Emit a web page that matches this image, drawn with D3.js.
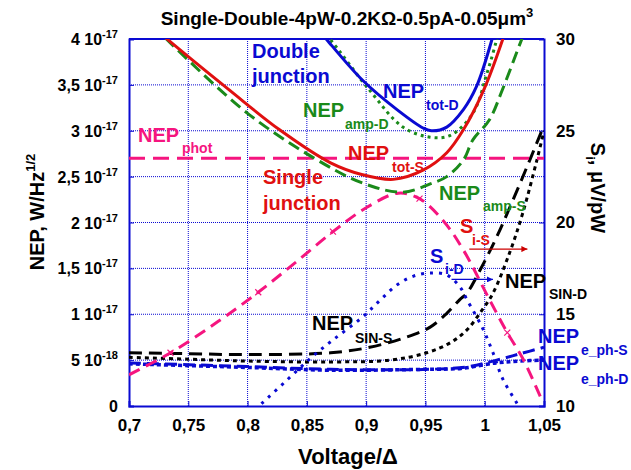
<!DOCTYPE html>
<html>
<head>
<meta charset="utf-8">
<script src="https://cdn.jsdelivr.net/npm/d3@7"></script>
<style>
  body { margin: 0; background: #fff; }
  svg { display: block; }
  text { font-family: Arial, "Liberation Sans", sans-serif; font-weight: bold; }
</style>
</head>
<body>
<svg id="chart" width="631" height="470"></svg>
<script>
// ---------- DATA (NEP in units of 1e-17 W/Hz^1/2, S in µV/pW) ----------
const xTicks = [0.7, 0.75, 0.8, 0.85, 0.9, 0.95, 1.0, 1.05];
const xTickLabels = ["0,7", "0,75", "0,8", "0,85", "0,9", "0,95", "1", "1,05"];
const yTicks = [0, 0.5, 1, 1.5, 2, 2.5, 3, 3.5, 4];
const yTickMant = ["0", "5", "1", "1,5", "2", "2,5", "3", "3,5", "4"];
const yTickExp = ["", "-18", "-17", "-17", "-17", "-17", "-17", "-17", "-17"];
const y2Ticks = [10, 15, 20, 25, 30];

// NEP_tot-S (red solid)
const totS_v = [0.725, 0.733, 0.785, 0.827, 0.870, 0.897, 0.923, 0.948, 0.968, 0.982, 0.999, 1.015, 1.02];
const totS_n = [4.08, 3.99, 3.44, 3.01, 2.65, 2.52, 2.47, 2.57, 2.76, 3.01, 3.44, 3.99, 4.2];
// NEP_amp-S (green dashed)
const ampS_v = [0.72, 0.737, 0.800, 0.855, 0.897, 0.931, 0.954, 0.968, 0.982, 0.990, 1.004, 1.015, 1.031, 1.036];
const ampS_n = [4.15, 3.93, 3.19, 2.71, 2.43, 2.33, 2.42, 2.50, 2.68, 2.90, 3.12, 3.45, 3.99, 4.15];
// NEP_tot-D (blue solid)
const totD_v = [0.860, 0.867, 0.897, 0.926, 0.948, 0.955, 0.968, 0.982, 0.993, 1.006, 1.01];
const totD_n = [4.1, 3.99, 3.55, 3.23, 3.03, 3.00, 3.04, 3.23, 3.48, 3.99, 4.2];
// NEP_amp-D (green dotted)
const ampD_v = [0.862, 0.870, 0.903, 0.931, 0.954, 0.971, 0.990, 1.002, 1.010, 1.014];
const ampD_n = [4.1, 3.99, 3.44, 3.04, 2.93, 2.95, 3.19, 3.63, 3.99, 4.2];
// NEP_phot (pink dashed)
const phot_v = [0.7, 1.05];
const phot_n = [2.7, 2.7];
// NEP_SIN-S (black dashed)
const sinS_v = [0.7, 0.75, 0.8, 0.87, 0.903, 0.934, 0.954, 0.968, 0.979, 0.985, 0.996, 1.010, 1.024, 1.038, 1.05];
const sinS_n = [0.58, 0.57, 0.56, 0.58, 0.64, 0.75, 0.86, 1.01, 1.16, 1.23, 1.48, 1.84, 2.25, 2.68, 3.06];
// NEP_SIN-D (black dotted)
const sinD_v = [0.7, 0.75, 0.8, 0.87, 0.92, 0.951, 0.971, 0.985, 0.998, 1.007, 1.021, 1.032, 1.044, 1.05];
const sinD_n = [0.53, 0.51, 0.49, 0.48, 0.50, 0.58, 0.69, 0.83, 1.05, 1.23, 1.67, 2.10, 2.68, 3.0];
// NEP_e_ph-S (blue dashed)
const ephS_v = [0.7, 0.75, 0.8, 0.87, 0.954, 0.987, 1.010, 1.03, 1.05];
const ephS_n = [0.47, 0.45, 0.43, 0.40, 0.40, 0.43, 0.50, 0.57, 0.64];
// NEP_e_ph-D (blue dotted)
const ephD_v = [0.7, 0.75, 0.8, 0.87, 0.95, 0.98, 1.010, 1.03, 1.05];
const ephD_n = [0.46, 0.44, 0.42, 0.39, 0.40, 0.41, 0.47, 0.49, 0.50];
// S_i-S (pink dashed, right axis)
const siS_v = [0.7, 0.735, 0.775, 0.809, 0.84, 0.872, 0.90, 0.927, 0.945, 0.965, 0.982, 1.004, 1.019, 1.032, 1.049];
const siS_s = [11.7, 12.9, 14.6, 16.2, 17.8, 19.5, 20.8, 21.6, 21.3, 20.1, 18.5, 15.8, 14.0, 12.6, 10.2];
const siS_markV = [0.735, 0.809, 0.872, 0.945, 1.019];
// S_i-D (blue dotted, right axis)
const siD_v = [0.806, 0.813, 0.833, 0.853, 0.872, 0.897, 0.912, 0.926, 0.940, 0.954, 0.968, 0.979, 0.985, 0.9985, 1.007, 1.015, 1.027, 1.03];
const siD_s = [9.8, 10.2, 11.4, 12.6, 13.6, 14.85, 15.78, 16.6, 17.08, 17.25, 17.14, 16.5, 15.8, 14.2, 12.9, 11.5, 10.16, 9.8];

// ---------- LAYOUT ----------
const svg = d3.select("#chart");
const L = 129, R = 544, T = 39, B = 406;
const x = d3.scaleLinear().domain([0.7, 1.05]).range([L, R]);
const y = d3.scaleLinear().domain([0, 4]).range([B, T]);
const y2 = d3.scaleLinear().domain([10, 30]).range([B, T]);

const BLUE = "#0a0ad2", RED = "#e01010", GREEN = "#1a8a1a", PINK = "#f5157f", BLACK = "#000";

svg.append("defs").append("clipPath").attr("id", "clip")
  .append("rect").attr("x", L).attr("y", T).attr("width", R - L).attr("height", B - T);

// grid
const grid = svg.append("g");
xTicks.slice(1, -1).forEach(v => grid.append("line")
  .attr("x1", x(v)).attr("x2", x(v)).attr("y1", T).attr("y2", B)
  .attr("stroke", BLUE).attr("stroke-width", 1).attr("stroke-dasharray", "1,1"));
yTicks.slice(1, -1).forEach(v => grid.append("line")
  .attr("x1", L).attr("x2", R).attr("y1", y(v)).attr("y2", y(v))
  .attr("stroke", BLUE).attr("stroke-width", 1).attr("stroke-dasharray", "1,1"));

// axes via d3
const FONT = "Arial, 'Liberation Sans', sans-serif";
const axB = svg.append("g").attr("transform", `translate(0,${B})`)
  .call(d3.axisBottom(x).tickValues(xTicks).tickSize(-5).tickFormat((d, i) => xTickLabels[i]));
axB.selectAll("text").attr("dy", "1.3em").style("font-size", "17px").style("font-family", FONT).style("font-weight", "bold").attr("fill", "#000");
const axL = svg.append("g").attr("transform", `translate(${L},0)`)
  .call(d3.axisLeft(y).tickValues(yTicks).tickSize(-5).tickFormat(""));
const axR = svg.append("g").attr("transform", `translate(${R},0)`)
  .call(d3.axisRight(y2).tickValues(y2Ticks).tickSize(-5).tickFormat(d => d));
axR.selectAll("text").attr("x", 12).style("font-size", "17px").style("font-family", FONT).style("font-weight", "bold").attr("fill", "#000");
[axB, axL, axR].forEach(a => {
  a.select(".domain").attr("stroke", BLUE).attr("stroke-width", 2);
  a.selectAll(".tick line").attr("stroke", BLUE);
});
svg.append("line").attr("x1", L).attr("x2", R).attr("y1", T).attr("y2", T).attr("stroke", BLUE).attr("stroke-width", 2);

// left tick labels with exponents
yTicks.forEach((v, i) => {
  const t = svg.append("text").attr("x", 118).attr("y", y(v) + 6).attr("text-anchor", "end")
    .style("font-size", "16px");
  if (yTickExp[i]) {
    t.append("tspan").text(yTickMant[i] + " 10");
    t.append("tspan").attr("dy", -7).style("font-size", "11px").text(yTickExp[i]);
  } else {
    t.text(yTickMant[i]);
  }
});

// curves
const plot = svg.append("g").attr("clip-path", "url(#clip)");
function drawNEP(vs, ns, color, dash, w) {
  const pts = vs.map((v, i) => [x(v), y(ns[i])]);
  plot.append("path").attr("d", d3.line().curve(d3.curveCatmullRom.alpha(0.5))(pts))
    .attr("fill", "none").attr("stroke", color).attr("stroke-width", w || 3)
    .attr("stroke-dasharray", dash || null);
}
function drawS(vs, ss, color, dash, w) {
  const pts = vs.map((v, i) => [x(v), y2(ss[i])]);
  plot.append("path").attr("d", d3.line().curve(d3.curveCatmullRom.alpha(0.5))(pts))
    .attr("fill", "none").attr("stroke", color).attr("stroke-width", w || 3)
    .attr("stroke-dasharray", dash || null);
}

drawNEP(ephD_v, ephD_n, BLUE, "4,3", 3.5);
drawNEP(ephS_v, ephS_n, BLUE, "12,6", 3);
drawNEP(sinD_v, sinD_n, BLACK, "4,4", 3);
drawNEP(sinS_v, sinS_n, BLACK, "13,7", 3);
drawS(siD_v, siD_s, BLUE, "3,6", 3);
drawS(siS_v, siS_s, PINK, "12,7", 3);
drawNEP(phot_v, phot_n, PINK, "16,8", 3);
drawNEP(ampS_v, ampS_n, GREEN, "12,6", 3);
drawNEP(ampD_v, ampD_n, GREEN, "3,4", 3);
drawNEP(totS_v, totS_n, RED, null, 3);
drawNEP(totD_v, totD_n, BLUE, null, 3);

// markers on S_i-S
const siInterp = v => {
  for (let i = 0; i < siS_v.length - 1; i++) if (v >= siS_v[i] && v <= siS_v[i + 1]) {
    const t = (v - siS_v[i]) / (siS_v[i + 1] - siS_v[i]);
    return siS_s[i] + t * (siS_s[i + 1] - siS_s[i]);
  }
  return siS_s[0];
};
siS_markV.forEach(v => {
  const cx = x(v), cy = y2(siInterp(v));
  plot.append("path").attr("d", `M${cx - 3},${cy - 3}L${cx + 3},${cy + 3}M${cx - 3},${cy + 3}L${cx + 3},${cy - 3}`)
    .attr("stroke", PINK).attr("stroke-width", 1.2);
});

// arrows
const defs = svg.select("defs");
[["arrR", "#cc0000"], ["arrB", BLUE]].forEach(([id, c]) => {
  defs.append("marker").attr("id", id).attr("viewBox", "0 0 10 10").attr("refX", 10).attr("refY", 5)
    .attr("markerWidth", 10).attr("markerHeight", 6).attr("orient", "auto").attr("markerUnits", "userSpaceOnUse")
    .append("path").attr("d", "M0,0L10,5L0,10Z").attr("fill", c);
});
svg.append("line").attr("x1", x(0.987)).attr("x2", x(1.036)).attr("y1", y2(18.55)).attr("y2", y2(18.55))
  .attr("stroke", "#cc0000").attr("stroke-width", 1.3).attr("marker-end", "url(#arrR)");
svg.append("line").attr("x1", x(0.972)).attr("x2", x(1.007)).attr("y1", y2(16.9)).attr("y2", y2(16.9))
  .attr("stroke", BLUE).attr("stroke-width", 1.3).attr("marker-end", "url(#arrB)");

// annotation labels
function lab(px, py, txt, color, size) {
  svg.append("text").attr("x", px).attr("y", py).attr("fill", color).style("font-size", size + "px").text(txt);
}
lab(252, 58, "Double", BLUE, 20);
lab(252, 83, "junction", BLUE, 20);
lab(383, 98, "NEP", BLUE, 20); lab(426, 110, "tot-D", BLUE, 14);
lab(303, 117, "NEP", GREEN, 20); lab(345, 129, "amp-D", GREEN, 14);
lab(138, 142, "NEP", PINK, 20); lab(182, 153, "phot", PINK, 14);
lab(348, 160, "NEP", RED, 20); lab(392, 172, "tot-S", RED, 14);
lab(263, 184, "Single", RED, 20);
lab(263, 210, "junction", RED, 20);
lab(439, 200, "NEP", GREEN, 20); lab(483, 211, "amp-S", GREEN, 14);
lab(460, 233, "S", RED, 20); lab(472, 245, "i-S", RED, 14);
lab(430, 263, "S", BLUE, 20); lab(445, 274, "i-D", BLUE, 14);
lab(505, 288, "NEP", BLACK, 20); lab(549, 299, "SIN-D", BLACK, 14);
lab(312, 330, "NEP", BLACK, 20); lab(355, 343, "SIN-S", BLACK, 14);
lab(538, 343, "NEP", BLUE, 20); lab(581, 355, "e_ph-S", BLUE, 14);
lab(538, 370, "NEP", BLUE, 20); lab(581, 384, "e_ph-D", BLUE, 14);

// title
const title = svg.append("text").attr("x", 347).attr("y", 25).attr("text-anchor", "middle").style("font-size", "19px");
title.append("tspan").text("Single-Double-4pW-0.2KΩ-0.5pA-0.05μm");
title.append("tspan").attr("dy", -8).style("font-size", "13px").text("3");

// axis titles
svg.append("text").attr("x", 348).attr("y", 464).attr("text-anchor", "middle").style("font-size", "22px").text("Voltage/Δ");
const yl = svg.append("text").attr("transform", "translate(44,212) rotate(-90)").attr("text-anchor", "middle").style("font-size", "20px");
yl.append("tspan").text("NEP, W/Hz");
yl.append("tspan").attr("dy", -9).style("font-size", "13px").text("1/2");
const yr = svg.append("text").attr("transform", "translate(591,188) rotate(90)").attr("text-anchor", "middle").style("font-size", "20px");
yr.append("tspan").text("S");
yr.append("tspan").attr("dy", 5).style("font-size", "13px").text("i");
yr.append("tspan").attr("dy", -5).text(", μV/pW");
</script>
</body>
</html>
